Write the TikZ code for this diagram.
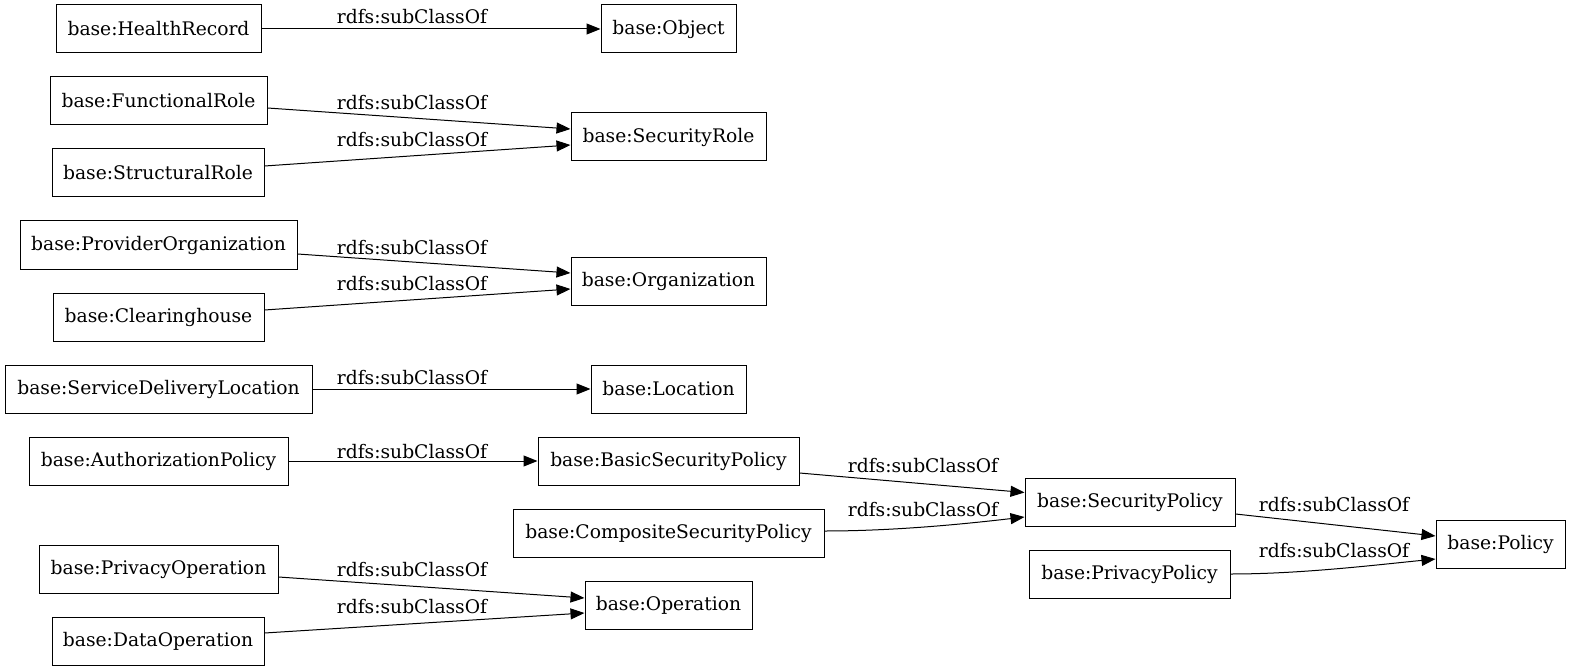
\documentclass[tikz,border=0pt]{standalone}
\usepackage{fontspec}
\setmainfont{DejaVu Serif}
\usetikzlibrary{arrows.meta}
\tikzset{
  box/.style={draw, line width=1pt, rectangle, inner sep=0pt, minimum height=48pt, font=\fontsize{18.7}{22}\selectfont},
  lbl/.style={inner sep=0pt, anchor=base, font=\fontsize{18.7}{22}\selectfont},
  edge/.style={line width=1pt, -{Triangle[length=14pt,width=11pt]}}
}
\begin{document}
\begin{tikzpicture}[x=1pt,y=-1pt]
\useasboundingbox (0,0) rectangle (1571,671);
% nodes
\node[box, minimum width=205pt] (hr) at (158.5,29) {base:HealthRecord};
\node[box, minimum width=135pt] (obj) at (668.5,29) {base:Object};
\node[box, minimum width=217pt] (fr) at (158.5,101) {base:FunctionalRole};
\node[box, minimum width=212pt] (sr) at (158,173) {base:StructuralRole};
\node[box, minimum width=195pt] (srole) at (668.5,137) {base:SecurityRole};
\node[box, minimum width=277pt] (po) at (158.5,245) {base:ProviderOrganization};
\node[box, minimum width=211pt] (ch) at (158.5,317) {base:Clearinghouse};
\node[box, minimum width=195pt] (org) at (668.5,281) {base:Organization};
\node[box, minimum width=307pt] (sdl) at (158.5,389) {base:ServiceDeliveryLocation};
\node[box, minimum width=155pt] (loc) at (668.5,389) {base:Location};
\node[box, minimum width=259pt] (ap) at (158.5,461) {base:AuthorizationPolicy};
\node[box, minimum width=261pt] (bsp) at (668.5,461) {base:BasicSecurityPolicy};
\node[box, minimum width=311pt] (csp) at (668.5,533) {base:CompositeSecurityPolicy};
\node[box, minimum width=167pt] (op) at (668.5,605) {base:Operation};
\node[box, minimum width=239pt] (pop) at (158.5,569) {base:PrivacyOperation};
\node[box, minimum width=212pt] (dop) at (158,641) {base:DataOperation};
\node[box, minimum width=210pt] (sp) at (1130,502.5) {base:SecurityPolicy};
\node[box, minimum width=201pt] (pp) at (1129.5,574) {base:PrivacyPolicy};
\node[box, minimum width=129pt] (pol) at (1500.5,544) {base:Policy};
% edges
\draw[edge] (hr.east) -- (obj.west);
\draw[edge] ([yshift=-7pt]fr.east) -- ([yshift=8pt]srole.west);
\draw[edge] ([yshift=7pt]sr.east) -- ([yshift=-8pt]srole.west);
\draw[edge] ([yshift=-9pt]po.east) -- ([yshift=8pt]org.west);
\draw[edge] ([yshift=7pt]ch.east) -- ([yshift=-8pt]org.west);
\draw[edge] (sdl.east) -- (loc.west);
\draw[edge] (ap.east) -- (bsp.west);
\draw[edge] ([yshift=-12pt]bsp.east) -- ([yshift=10pt]sp.west);
\draw[edge] ([yshift=2pt]csp.east) .. controls +(70,0) and +(-60,7) .. ([yshift=-14.5pt]sp.west);
\draw[edge] ([yshift=-11.5pt]sp.east) -- ([yshift=8pt]pol.west);
\draw[edge] (pp.east) .. controls +(70,0) and +(-60,6) .. ([yshift=-15pt]pol.west);
\draw[edge] ([yshift=-8pt]pop.east) -- ([yshift=7pt]op.west);
\draw[edge] ([yshift=8pt]dop.east) -- ([yshift=-8pt]op.west);
% labels
\node[lbl] (l1) at (412,24) {rdfs:subClassOf};
\node[lbl] (l2) at (412,110) {rdfs:subClassOf};
\node[lbl] (l3) at (412,147) {rdfs:subClassOf};
\node[lbl] (l4) at (412,254) {rdfs:subClassOf};
\node[lbl] (l5) at (412,290) {rdfs:subClassOf};
\node[lbl] (l6) at (412,384) {rdfs:subClassOf};
\node[lbl] (l7) at (412,458) {rdfs:subClassOf};
\node[lbl] (l8) at (923,472) {rdfs:subClassOf};
\node[lbl] (l9) at (923,516) {rdfs:subClassOf};
\node[lbl] (l10) at (1334,511) {rdfs:subClassOf};
\node[lbl] (l11) at (1334,557) {rdfs:subClassOf};
\node[lbl] (l12) at (412,576) {rdfs:subClassOf};
\node[lbl] (l13) at (412,613) {rdfs:subClassOf};
\end{tikzpicture}
\end{document}
